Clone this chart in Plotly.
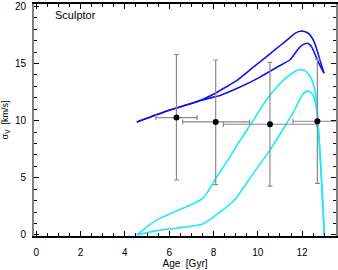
import plotly.graph_objects as go

# Observed points
obs_age = [6.33, 8.10, 10.55, 12.69]
obs_sig = [10.26, 9.88, 9.68, 9.94]
obs_age_err_minus = [0.93, 1.49, 2.10, 1.10]
obs_age_err_plus = [0.93, 1.52, 2.10, 1.10]
obs_sig_err_plus = [5.52, 5.42, 5.42, 5.46]
obs_sig_err_minus = [5.46, 5.48, 5.41, 5.44]

# Blue model curves
blue1_age = [4.54, 6.0, 7.0, 7.5, 8.0, 8.3, 9.05, 9.8, 10.55, 11.1, 11.46, 11.7, 11.91, 12.1, 12.28, 12.45, 12.58, 12.7, 12.81, 12.99]
blue1_sig = [9.88, 10.9, 11.5, 11.85, 12.3, 12.64, 13.5, 14.67, 15.84, 16.7, 17.29, 17.65, 17.81, 17.8, 17.64, 17.25, 16.7, 16.0, 15.26, 14.15]
blue2_age = [4.54, 6.0, 7.0, 7.5, 8.0, 8.3, 9.2, 10.1, 10.86, 11.46, 11.65, 11.83, 12.0, 12.24, 12.4, 12.51, 12.73, 12.99]
blue2_sig = [9.88, 10.9, 11.5, 11.8, 12.05, 12.2, 12.93, 13.8, 14.67, 15.32, 15.8, 16.28, 16.6, 16.77, 16.55, 16.13, 15.11, 14.15]

# Cyan model curves
cyan1_age = [4.54, 5.44, 7.52, 8.15, 8.75, 9.05, 9.8, 10.03, 10.33, 10.86, 11.2, 11.53, 11.75, 11.91, 12.1, 12.28, 12.45, 12.58, 12.68, 12.76, 12.85, 12.92, 12.97, 13.0]
cyan1_sig = [0.0, 1.31, 3.2, 5.08, 6.85, 7.8, 10.03, 10.75, 11.65, 12.93, 13.6, 14.1, 14.38, 14.45, 14.4, 14.1, 13.5, 12.64, 11.0, 8.6, 5.6, 3.0, 1.2, 0.0]
cyan2_age = [4.54, 5.44, 7.52, 8.3, 8.75, 9.05, 9.8, 10.55, 11.3, 11.6, 11.83, 12.0, 12.22, 12.4, 12.51, 12.6, 12.66, 12.73, 12.8, 12.87, 12.93, 12.97, 13.0]
cyan2_sig = [0.0, 0.37, 0.96, 2.0, 2.7, 3.3, 5.38, 7.41, 9.74, 10.7, 11.6, 12.2, 12.6, 12.45, 12.2, 11.5, 10.9, 9.3, 7.5, 5.2, 3.0, 1.3, 0.0]

BLUE = "#1414e6"
CYAN = "#1ee8ff"
GRAY = "#8a8a8a"
FONT = "Liberation Sans, Arial, sans-serif"

fig = go.Figure()
for a, s, c in [(blue1_age, blue1_sig, BLUE), (blue2_age, blue2_sig, BLUE),
                (cyan1_age, cyan1_sig, CYAN), (cyan2_age, cyan2_sig, CYAN)]:
    fig.add_trace(go.Scatter(x=a, y=s, mode="lines",
                             line=dict(color=c, width=1.6, shape="spline", smoothing=0.5),
                             showlegend=False, hoverinfo="skip"))

fig.add_trace(go.Scatter(
    x=obs_age, y=obs_sig, mode="markers",
    marker=dict(color="black", size=6),
    error_x=dict(type="data", symmetric=False, array=obs_age_err_plus,
                 arrayminus=obs_age_err_minus, color=GRAY, thickness=1.2, width=2.5),
    error_y=dict(type="data", symmetric=False, array=obs_sig_err_plus,
                 arrayminus=obs_sig_err_minus, color=GRAY, thickness=1.2, width=2.5),
    showlegend=False, hoverinfo="skip"))

fig.add_annotation(text="Sculptor", xref="paper", yref="paper", x=0.063, y=0.953,
                   xanchor="left", yanchor="middle", showarrow=False,
                   font=dict(size=11, color="black", family=FONT))

fig.update_layout(
    width=338, height=270,
    margin=dict(l=34, r=2, t=4, b=34, autoexpand=False),
    plot_bgcolor="white", paper_bgcolor="white",
    font=dict(family=FONT, size=10, color="black"),
    xaxis=dict(range=[-0.1, 13.53], tickvals=[0, 2, 4, 6, 8, 10, 12],
               ticks="inside", ticklen=5, tickcolor="black", tickwidth=1,
               showline=True, linecolor="black", linewidth=1.5, mirror="allticks",
               showgrid=False, zeroline=False, ticklabelstandoff=6,
               minor=dict(dtick=0.5, ticks="inside", ticklen=3, tickcolor="black"),
               title=dict(text="Age  [Gyr]", font=dict(size=10), standoff=3),
               tickfont=dict(size=10)),
    yaxis=dict(range=[-0.1, 20.2], tickvals=[0, 5, 10, 15, 20],
               ticks="inside", ticklen=5, tickcolor="black", tickwidth=1,
               showline=True, linecolor="#808080", linewidth=2, mirror="allticks",
               showgrid=False, zeroline=False, ticklabelstandoff=4,
               minor=dict(dtick=1, ticks="inside", ticklen=3, tickcolor="black"),
               title=dict(text="σ<sub>V</sub>  [km/s]", font=dict(size=9), standoff=6),
               tickfont=dict(size=10)),
)

fig.write_html("out.html", config={"displayModeBar": False},
               post_script="document.body.style.margin='0';document.body.style.overflow='hidden';")
